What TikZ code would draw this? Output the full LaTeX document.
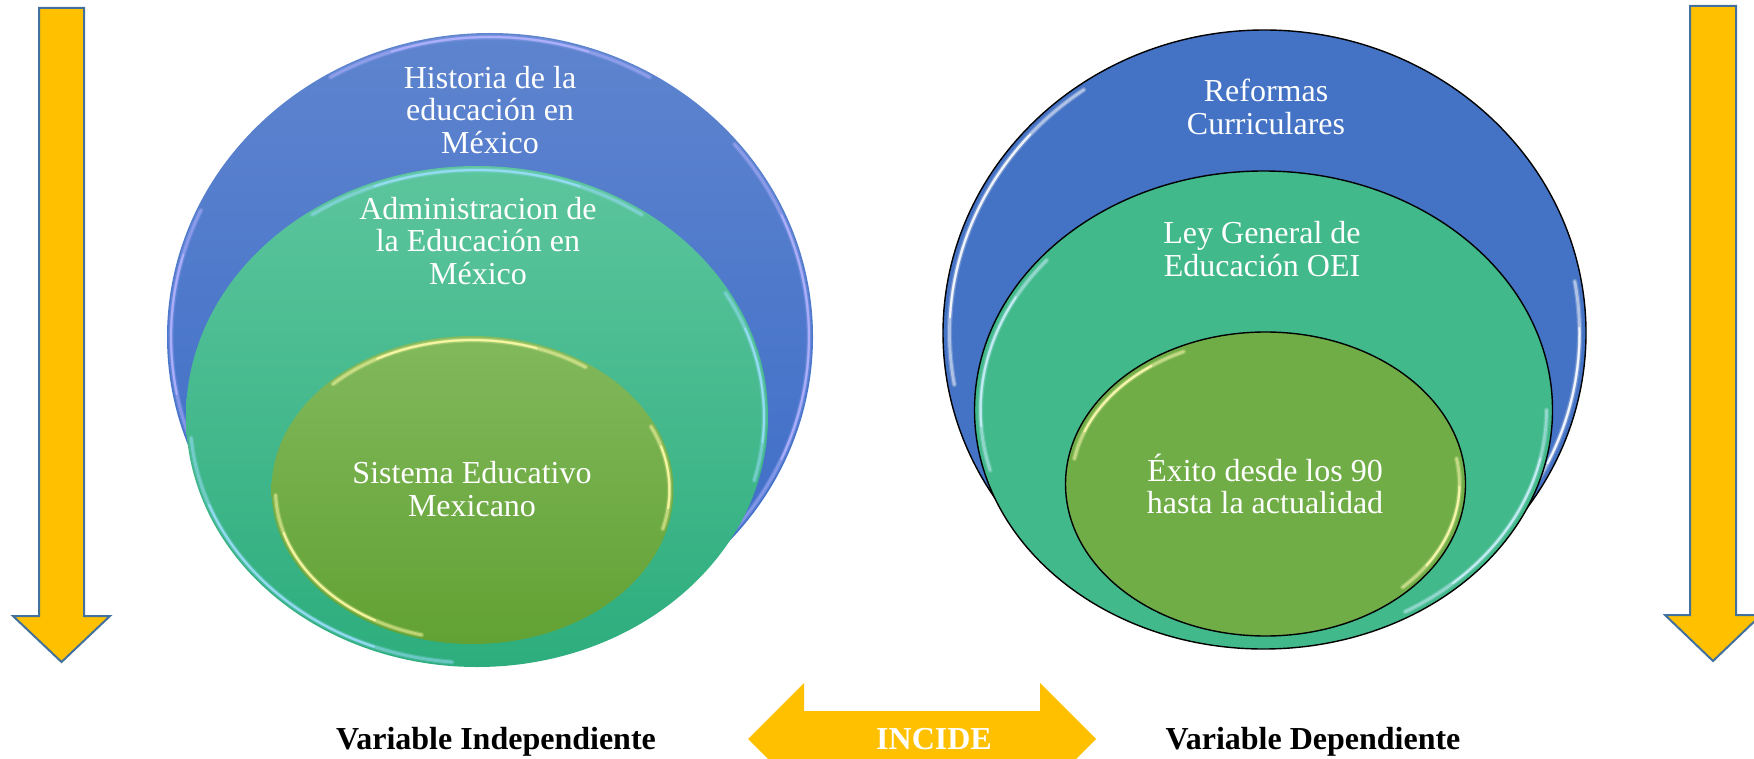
\documentclass[tikz,border=0pt]{standalone}
\usepackage{fontspec}
\setmainfont{Liberation Serif}
\usetikzlibrary{shapes.geometric}
\definecolor{arrowY}{HTML}{FFC000}
\definecolor{arrowE}{HTML}{41719C}
\definecolor{blueT}{HTML}{5E84CE}
\definecolor{blueB}{HTML}{3A6BC7}
\definecolor{greenT}{HTML}{5CC59D}
\definecolor{greenB}{HTML}{2DAD7D}
\definecolor{leafT}{HTML}{82B95C}
\definecolor{leafB}{HTML}{62A133}
\definecolor{blueF}{HTML}{4472C4}
\definecolor{greenF}{HTML}{42B98B}
\definecolor{leafF}{HTML}{70AD47}
% highlight rim: cx cy rx ry startangle endangle colour
\newcommand\hlglow[7]{%
  \pgfmathsetmacro\hgA{#5+0.2*(#6-#5)}%
  \pgfmathsetmacro\hgB{#6-0.2*(#6-#5)}%
  \draw[line width=2.6pt, draw opacity=0.22, line cap=round, #7] (#1,#2) ++(#5:#3 and #4) arc[start angle=#5, end angle=#6, x radius=#3, y radius=#4];
  \draw[line width=1.4pt, draw opacity=0.45, line cap=round, #7] (#1,#2) ++(#5:#3 and #4) arc[start angle=#5, end angle=#6, x radius=#3, y radius=#4];
  \draw[line width=1.0pt, draw opacity=0.85, line cap=round, #7] (#1,#2) ++(\hgA:#3 and #4) arc[start angle=\hgA, end angle=\hgB, x radius=#3, y radius=#4];
}
\begin{document}
\begin{tikzpicture}[x=0.5pt,y=-0.5pt,
  oval/.style={ellipse, inner sep=0pt, outer sep=0pt},
  ringL/.style={oval, draw=none},
  ringR/.style={oval, draw=black, line width=0.7pt},
  inlbl/.style={text=white, font=\fontsize{16}{16.25}\selectfont, align=center, inner sep=0pt},
  botlbl/.style={font=\bfseries\fontsize{16}{19}\selectfont, inner sep=0pt, anchor=base},
  downarrow/.style={fill=arrowY, draw=arrowE, line width=1pt, line join=miter},
  dblarrow/.style={fill=arrowY, draw=none}]
\useasboundingbox (0,0) rectangle (1754,759);
\clip (0,0) rectangle (1754,759);

% ---------- down arrows ----------
\draw[downarrow] (39,8) -- (84,8) -- (84,616) -- (110,616) -- (61.5,662) -- (13,616) -- (39,616) -- cycle;
\draw[downarrow] (1690,6) -- (1736,6) -- (1736,615) -- (1761,615) -- (1713,661) -- (1665,615) -- (1690,615) -- cycle;

% ---------- left group ----------
\node[ringL, top color=blueT, bottom color=blueB, minimum width=323pt, minimum height=304pt] (lblue) at (490,337) {};
\hlglow{490}{337}{319}{300}{-40}{40}{white!70!blue}
\hlglow{490}{337}{319}{300}{160}{205}{white!70!blue}
\hlglow{490}{337}{319}{300}{-120}{-60}{white!70!blue}
\node[ringL, top color=greenT, bottom color=greenB, minimum width=291pt, minimum height=250.5pt] (lgreen) at (477,416.5) {};
\hlglow{477}{416.5}{287}{246.5}{95}{175}{white!60!cyan}
\hlglow{477}{416.5}{287}{246.5}{-125}{-55}{white!60!cyan}
\hlglow{477}{416.5}{287}{246.5}{-30}{15}{white!60!cyan}
\node[ringL, top color=leafT, bottom color=leafB, minimum width=201pt, minimum height=154pt] (lleaf) at (472.5,490) {};
\hlglow{472.5}{490}{197}{150}{105}{178}{white!65!yellow}
\hlglow{472.5}{490}{197}{150}{-135}{-55}{white!65!yellow}
\hlglow{472.5}{490}{197}{150}{-25}{15}{white!65!yellow}

\node[inlbl] (t1) at (490,110) {Historia de la\\educación en\\México};
\node[inlbl] (t2) at (478,241) {Administracion de\\la Educación en\\México};
\node[inlbl] (t3) at (472,489) {Sistema Educativo\\Mexicano};

% ---------- right group ----------
\node[ringR, fill=blueF, minimum width=321.5pt, minimum height=303pt] (rblue) at (1264.5,333) {};
\hlglow{1264.5}{333}{315}{297}{170}{235}{white}
\hlglow{1264.5}{333}{315}{297}{-10}{35}{white}
\node[ringR, fill=greenF, minimum width=289pt, minimum height=239pt] (rgreen) at (1263.5,410) {};
\hlglow{1263.5}{410}{283}{233}{165}{220}{white!80!cyan}
\hlglow{1263.5}{410}{283}{233}{0}{60}{white!80!cyan}
\node[ringR, fill=leafF, minimum width=200pt, minimum height=152pt] (rleaf) at (1265.5,484) {};
\hlglow{1265.5}{484}{194}{146}{190}{245}{white!70!yellow}
\hlglow{1265.5}{484}{194}{146}{-10}{45}{white!70!yellow}

\node[inlbl] (t4) at (1266,107) {Reformas\\Curriculares};
\node[inlbl] (t5) at (1262,249) {Ley General de\\Educación OEI};
\node[inlbl] (t6) at (1265,484) {Éxito desde los 90\\hasta la actualidad};

% ---------- bottom ----------
\draw[dblarrow] (748,739) -- (804,683) -- (804,711) -- (1040,711) -- (1040,683) -- (1096,739) -- (1040,795) -- (1040,767) -- (804,767) -- (804,795) -- cycle;
\node[botlbl, text=white] (incide) at (934,749) {INCIDE};
\node[botlbl] (vind) at (496,749) {Variable Independiente};
\node[botlbl] (vdep) at (1313,749) {Variable Dependiente};
\end{tikzpicture}
\end{document}
